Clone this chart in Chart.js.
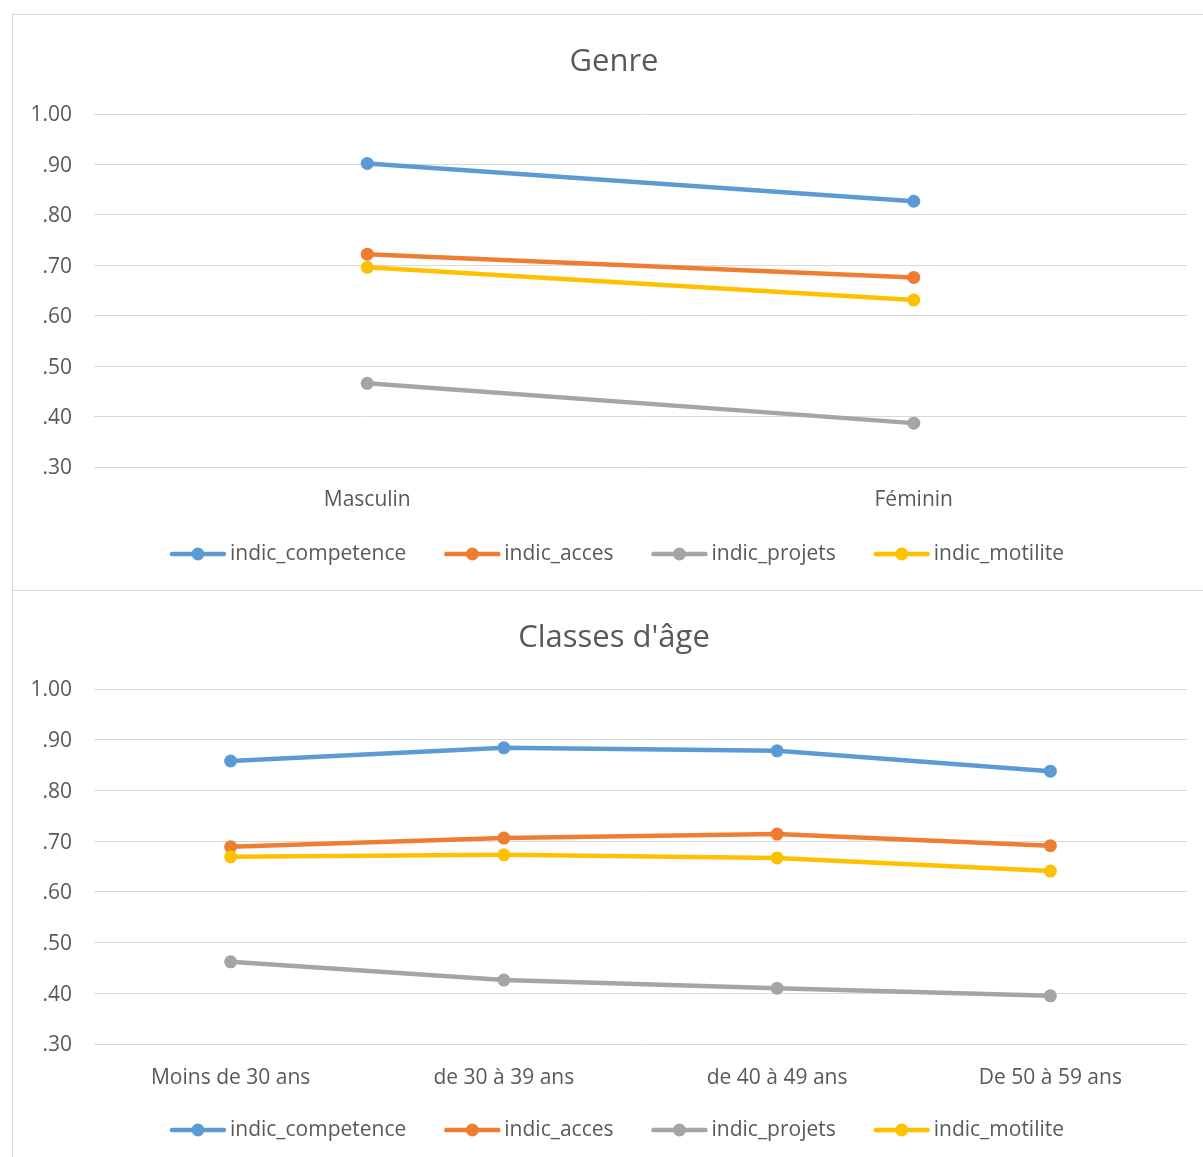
<!DOCTYPE html>
<html>
<head>
<meta charset="utf-8">
<script src="https://cdn.jsdelivr.net/npm/chart.js@4/dist/chart.umd.min.js"></script>
<style>
  html, body { margin: 0; padding: 0; background: #fff; overflow: hidden; width: 1203px; height: 1157px; }
  .box { position: absolute; box-sizing: content-box; }
  #boxTop { left: 12px; top: 14px; width: 1202px; height: 575px; border-left: 1px solid #D9D9D9; border-top: 1px solid #D9D9D9; border-bottom: 1px solid #D9D9D9; }
  #boxAge { left: 12px; top: 591px; width: 1202px; height: 566px; border-left: 1px solid #D9D9D9; }
  canvas { display: block; }
</style>
</head>
<body>
<div class="box" id="boxTop"><canvas id="chartGenre" width="1202" height="575"></canvas></div>
<div class="box" id="boxAge"><canvas id="chartAge" width="1202" height="566"></canvas></div>
<script>
// Series names and colours
const seriesNames = ['indic_competence', 'indic_acces', 'indic_projets', 'indic_motilite'];
const seriesColors = ['#5B9BD5', '#ED7D31', '#A5A5A5', '#FFC000'];

// Genre
const genreLabels = ['Masculin', 'Féminin'];
const genreCompetence = [0.902, 0.827];
const genreAcces = [0.722, 0.676];
const genreProjets = [0.466, 0.387];
const genreMotilite = [0.696, 0.631];

// Classes d'âge
const ageLabels = ['Moins de 30 ans', 'de 30 à 39 ans', 'de 40 à 49 ans', 'De 50 à 59 ans'];
const ageCompetence = [0.858, 0.884, 0.878, 0.838];
const ageAcces = [0.689, 0.706, 0.714, 0.691];
const ageProjets = [0.462, 0.426, 0.410, 0.395];
const ageMotilite = [0.669, 0.673, 0.667, 0.641];

// Value axis
const yMin = 0.3, yMax = 1.0, yStep = 0.1;

const FONT = '"Open Sans"';
const TEXT = '#595959';
const GRID = '#D9D9D9';
const TITLE_SIZE = 31;
const LABEL_SIZE = 21;

function fmtTick(v) {
  const s = (Math.round(v * 100) / 100).toFixed(2);
  return s.startsWith('0') ? s.slice(1) : s;
}

// Legend drawn as a line with a round marker, centred below the plot
const lineLegend = {
  id: 'lineLegend',
  afterDraw(chart, args, opts) {
    const ctx = chart.ctx;
    ctx.save();
    ctx.font = opts.size + 'px ' + FONT;
    const markW = 56, gapText = 4, gapItem = 38;
    const items = chart.data.datasets.map(ds => ({
      label: ds.label, color: ds.borderColor, w: ctx.measureText(ds.label).width
    }));
    const total = items.reduce((s, it) => s + markW + gapText + it.w, 0) + gapItem * (items.length - 1);
    let x = chart.width / 2 - total / 2 + (opts.shift || 0);
    const y = opts.y;
    items.forEach(it => {
      ctx.strokeStyle = it.color;
      ctx.lineWidth = 4.5;
      ctx.lineCap = 'round';
      ctx.beginPath();
      ctx.moveTo(x + 2, y);
      ctx.lineTo(x + markW - 2, y);
      ctx.stroke();
      ctx.fillStyle = it.color;
      ctx.beginPath();
      ctx.arc(x + markW / 2, y, 6.5, 0, Math.PI * 2);
      ctx.fill();
      ctx.fillStyle = TEXT;
      ctx.textBaseline = 'middle';
      ctx.textAlign = 'left';
      ctx.fillText(it.label, x + markW + gapText, y);
      x += markW + gapText + it.w + gapItem;
    });
    ctx.restore();
  }
};

function makeDatasets(values) {
  // later series sit above earlier ones
  return values.map((vals, i) => ({
    label: seriesNames[i],
    data: vals,
    borderColor: seriesColors[i],
    backgroundColor: seriesColors[i],
    pointBackgroundColor: seriesColors[i],
    pointBorderColor: seriesColors[i],
    borderWidth: 4.5,
    pointRadius: 6.5,
    pointBorderWidth: 0,
    tension: 0,
    order: values.length - i
  }));
}

function makeChart(id, titleText, labels, values, g) {
  const titleLine = TITLE_SIZE * 1.2;
  const padTop = g.titleY - titleLine / 2;
  const padBottom = g.areaTop - padTop - titleLine;
  return new Chart(document.getElementById(id), {
    type: 'line',
    data: { labels: labels, datasets: makeDatasets(values) },
    plugins: [lineLegend],
    options: {
      responsive: false,
      animation: false,
      events: [],
      layout: { padding: 0 },
      plugins: {
        legend: { display: false },
        tooltip: { enabled: false },
        title: {
          display: true,
          text: titleText,
          color: TEXT,
          font: { family: FONT, size: TITLE_SIZE, weight: 'normal' },
          padding: { top: padTop, bottom: padBottom }
        },
        lineLegend: { y: g.legendY, size: LABEL_SIZE, shift: 3 }
      },
      scales: {
        x: {
          offset: true,
          grid: { display: false, drawTicks: false },
          border: { display: false },
          ticks: { color: TEXT, font: { family: FONT, size: LABEL_SIZE }, padding: g.xPad, maxRotation: 0 },
          afterFit(scale) { scale.height = g.height - g.areaBottom; }
        },
        y: {
          min: yMin,
          max: yMax,
          grid: { color: GRID, lineWidth: 1, drawTicks: false },
          border: { display: false },
          ticks: {
            stepSize: yStep,
            color: TEXT,
            font: { family: FONT, size: LABEL_SIZE },
            padding: 22,
            labelOffset: 1.5,
            callback: v => fmtTick(v)
          },
          afterFit(scale) { scale.width = 81; }
        },
        // empty margin on the right of the plot
        yRight: {
          position: 'right',
          display: true,
          grid: { display: false, drawTicks: false },
          border: { display: false },
          ticks: { display: false },
          afterFit(scale) { scale.width = g.padRight; }
        }
      }
    }
  });
}

makeChart('chartGenre', 'Genre', genreLabels,
  [genreCompetence, genreAcces, genreProjets, genreMotilite],
  { height: 575, titleY: 47, areaTop: 99, areaBottom: 452, padRight: 28, xPad: 20, legendY: 539 });

makeChart('chartAge', "Classes d'âge", ageLabels,
  [ageCompetence, ageAcces, ageProjets, ageMotilite],
  { height: 566, titleY: 47, areaTop: 98, areaBottom: 453, padRight: 28, xPad: 21, legendY: 539 });
</script>
</body>
</html>
